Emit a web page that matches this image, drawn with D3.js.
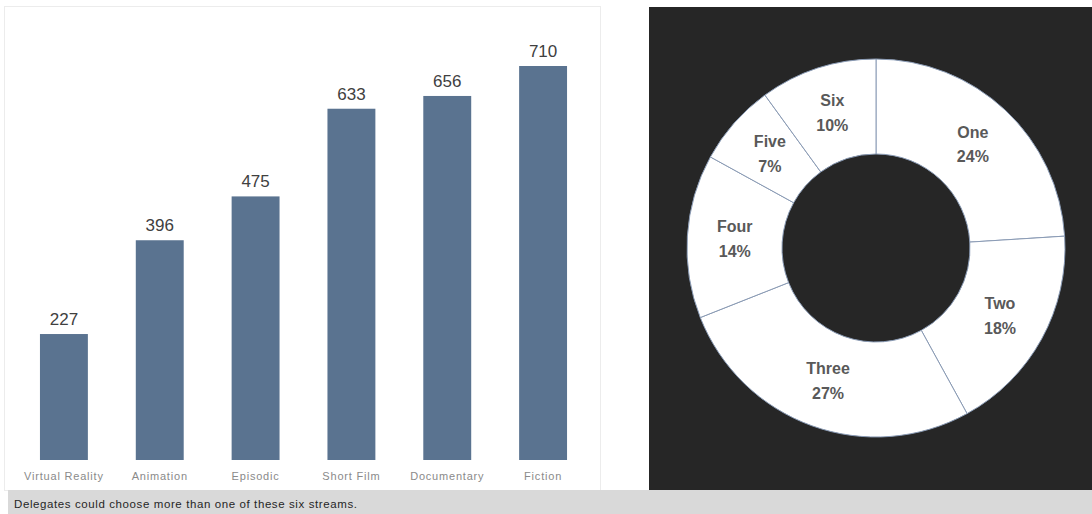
<!DOCTYPE html>
<html>
<head>
<meta charset="utf-8">
<script src="https://cdn.jsdelivr.net/npm/d3@7"></script>
<style>
  html, body { margin: 0; padding: 0; background: #ffffff; }
  svg { display: block; }
</style>
</head>
<body>
<svg id="chart" width="1092" height="514"></svg>
<script>
// Streams chosen by delegates
const categories = ["Virtual Reality", "Animation", "Episodic", "Short Film", "Documentary", "Fiction"];
const counts = [227, 396, 475, 633, 656, 710];

// Number of streams chosen per delegate (share, %)
const streamLabels = ["One", "Two", "Three", "Four", "Five", "Six"];
const streamShares = [24, 18, 27, 14, 7, 10];

const footnote = "Delegates could choose more than one of these six streams.";

const svg = d3.select("#chart");
const W = 1092, H = 514;

// ---- Left panel: bar chart ----
svg.append("rect")
  .attr("x", 4.5).attr("y", 6.5).attr("width", 596).attr("height", 484)
  .attr("fill", "#ffffff").attr("stroke", "#ececec").attr("stroke-width", 1);

const x = d3.scaleBand()
  .domain(categories)
  .range([16, 591])
  .paddingInner(0.5)
  .paddingOuter(0.25);

const y = d3.scaleLinear()
  .domain([0, 710])
  .range([460, 66]);

const bars = svg.append("g");
bars.selectAll("rect")
  .data(categories.map((c, i) => ({ c, v: counts[i] })))
  .join("rect")
  .attr("x", d => x(d.c))
  .attr("y", d => y(d.v))
  .attr("width", x.bandwidth())
  .attr("height", d => y(0) - y(d.v))
  .attr("fill", "#5a7390");

bars.selectAll("text.val")
  .data(categories.map((c, i) => ({ c, v: counts[i] })))
  .join("text")
  .attr("class", "val")
  .attr("x", d => x(d.c) + x.bandwidth() / 2)
  .attr("y", d => y(d.v) - 9)
  .attr("text-anchor", "middle")
  .attr("font-family", "Liberation Sans, Arial, sans-serif")
  .attr("font-size", 17)
  .attr("fill", "#404040")
  .text(d => d.v);

const xAxis = d3.axisBottom(x).tickSize(0).tickPadding(12);
const gx = svg.append("g").attr("transform", "translate(0,460)").call(xAxis);
gx.select(".domain").remove();
gx.selectAll("text")
  .attr("font-family", "Liberation Sans, Arial, sans-serif")
  .attr("font-size", 11)
  .attr("letter-spacing", 0.8)
  .attr("fill", "#8a8a8a");

// ---- Right panel: donut chart ----
svg.append("rect")
  .attr("x", 649).attr("y", 7).attr("width", W - 649).attr("height", 483)
  .attr("fill", "#262626");

const cx = 876, cy = 248, rOuter = 189, rInner = 94;
const pie = d3.pie().sort(null).value(d => d.v);
const arc = d3.arc().innerRadius(rInner).outerRadius(rOuter);
const labelArc = d3.arc().innerRadius((rInner + rOuter) / 2).outerRadius((rInner + rOuter) / 2);

const slices = pie(streamLabels.map((l, i) => ({ l, v: streamShares[i] })));
const donut = svg.append("g").attr("transform", `translate(${cx},${cy})`);
donut.selectAll("path")
  .data(slices)
  .join("path")
  .attr("d", arc)
  .attr("fill", "#ffffff")
  .attr("stroke", "#8a9bb5")
  .attr("stroke-width", 1);

const lbl = donut.selectAll("text")
  .data(slices)
  .join("text")
  .attr("transform", d => `translate(${labelArc.centroid(d)})`)
  .attr("text-anchor", "middle")
  .attr("font-family", "Liberation Sans, Arial, sans-serif")
  .attr("font-weight", "bold")
  .attr("font-size", 16)
  .attr("fill", "#595959");
lbl.append("tspan").attr("x", 0).attr("dy", "-0.45em").text(d => d.data.l);
lbl.append("tspan").attr("x", 0).attr("dy", "1.55em").text(d => d.data.v + "%");

// ---- Footnote band ----
svg.append("rect")
  .attr("x", 8).attr("y", 490).attr("width", W - 8).attr("height", H - 490)
  .attr("fill", "#d9d9d9");
svg.append("text")
  .attr("x", 14).attr("y", 508)
  .attr("font-family", "Liberation Sans, Arial, sans-serif")
  .attr("font-size", 11.5)
  .attr("letter-spacing", 0.6)
  .attr("fill", "#262626")
  .text(footnote);
</script>
</body>
</html>
